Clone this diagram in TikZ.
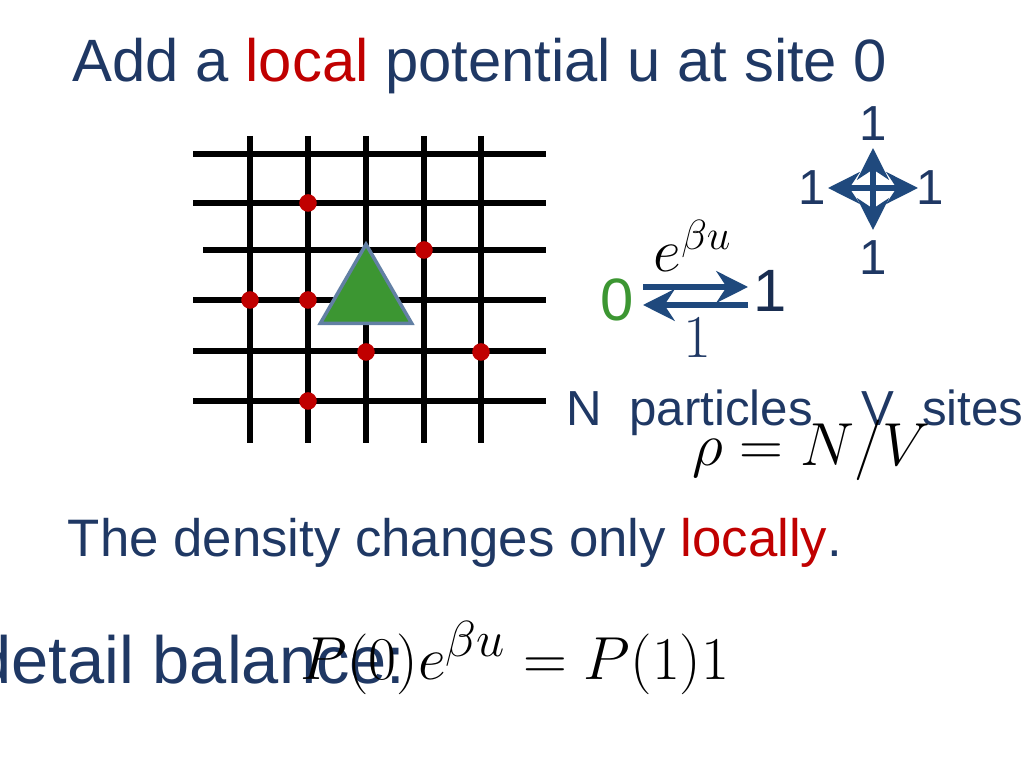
\documentclass[tikz,border=0pt]{standalone}
\usepackage{fontspec}
\setmainfont{Liberation Sans}
\usepackage{amsmath}
\usetikzlibrary{arrows.meta, positioning, calc, shapes.geometric}
\definecolor{titleblue}{RGB}{31,56,100}
\definecolor{arrowblue}{RGB}{31,73,125}
\definecolor{dotred}{RGB}{192,0,0}
\definecolor{trigreen}{RGB}{60,150,50}

\begin{document}
\begin{tikzpicture}[x=0.01cm, y=-0.01cm,
        gridline/.style={line width=1.6pt, black},
        particle/.style={circle, fill=dotred, inner sep=0pt, minimum size=5pt},
        txt/.style={inner sep=1pt, font=\fontsize{17}{20}\selectfont},
        small/.style={inner sep=1pt, font=\fontsize{14}{16}\selectfont},
        bluearrow/.style={line width=1.8pt, arrowblue, -{Stealth[length=9pt, width=9pt]}}]
        \useasboundingbox (0,0) rectangle (1024,768);
        % Title
        \node[txt, text=titleblue] (title) at (480,66) {Add a \textcolor{dotred}{local} potential u at site 0};

        % Lattice
        \foreach \y/\x in {154/193, 203/193, 250/203, 300/193, 351/193, 401/193}
            \draw[gridline] (\x,\y) -- (546,\y);
        \foreach \x in {250, 308, 366, 424, 481}
            \draw[gridline] (\x,136) -- (\x,443);
        \foreach \x/\y [count=\i] in {308/203, 424/250, 250/300, 308/300, 366/352, 481/352, 308/401}
            \node[particle] (p\i) at (\x,\y) {};
        \node[regular polygon, regular polygon sides=3, fill=trigreen, draw=arrowblue!70, line width=1pt,
              minimum size=30pt, inner sep=0pt] (site) at (366,297) {};

        % Hopping rates
        \coordinate (c) at (873,188);
        \node[small, text=titleblue] (up) at (873,124) {1};
        \node[small, text=titleblue] (left) at (812,188) {1};
        \node[small, text=titleblue] (right) at (930,188) {1};
        \node[small, text=titleblue] (down) at (873,258) {1};
        \draw[bluearrow] (c) -- (873,148);
        \draw[bluearrow] (c) -- (873,230);
        \draw[bluearrow] (c) -- (828,188);
        \draw[bluearrow] (c) -- (918,188);

        % Two-state rates
        \node[txt, text=trigreen] (zero) at (617,300) {0};
        \node[txt, text=titleblue!80!black] (one) at (770,291) {1};
        \node[txt] (rate) at (693,246) {$e^{\beta u}$};
        \node[txt, text=titleblue] (back) at (697,338) {$1$};
        \draw[bluearrow] (643,287) -- (748,287);
        \draw[bluearrow] (748,305) -- (643,305);

        \node[small, text=titleblue] (count) at (795,413) {N\ \ particles\quad V\ \ sites};
        \node[txt] (rho) at (811,450) {$\rho = N/V$};

        \node[small, text=titleblue, font=\fontsize{15}{18}\selectfont] (note) at (455,543)
            {The density changes only \textcolor{dotred}{locally}.};
        \node[txt, text=titleblue, font=\fontsize{19}{22}\selectfont] (detail) at (190,660) {detail balance:};
        \node[txt, font=\fontsize{19}{22}\selectfont] (balance) at (515,658) {$P(0)e^{\beta u} = P(1)1$};
\end{tikzpicture}
\end{document}
